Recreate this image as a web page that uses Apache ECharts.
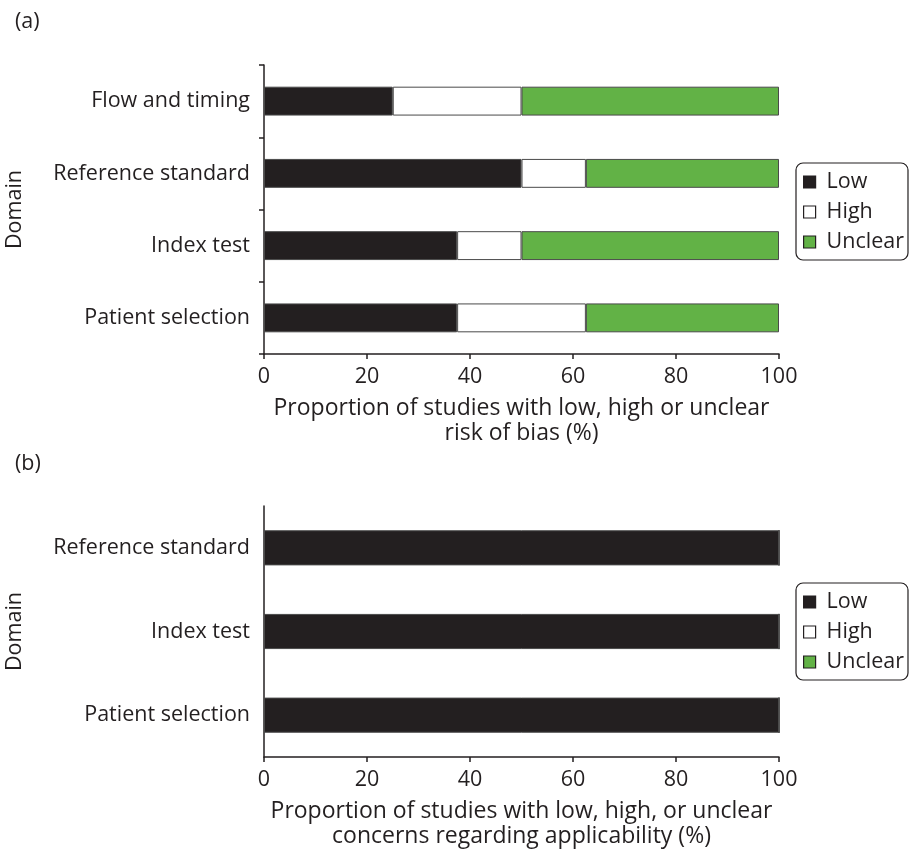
<!DOCTYPE html>
<html>
<head>
<meta charset="utf-8">
<script src="https://cdn.jsdelivr.net/npm/echarts@6/dist/echarts.min.js"></script>
<style>
  html, body { margin: 0; padding: 0; background: #fff; }
  #chart { width: 911px; height: 852px; }
</style>
</head>
<body>
<div id="chart"></div>
<script>
// Panel (a): risk of bias per QUADAS-2 domain (bottom to top)
const biasDomains = ['Patient selection', 'Index test', 'Reference standard', 'Flow and timing'];
const biasLow = [37.5, 37.5, 50, 25];
const biasHigh = [25, 12.5, 12.5, 25];
const biasUnclear = [37.5, 50, 37.5, 50];

// Panel (b): applicability concerns per domain (bottom to top)
const applDomains = ['Patient selection', 'Index test', 'Reference standard'];
const applLow = [100, 100, 100];
const applHigh = [0, 0, 0];
const applUnclear = [0, 0, 0];

const xTicks = [0, 20, 40, 60, 80, 100];
const levelNames = ['Low', 'High', 'Unclear'];

const INK = '#231f20';
const GREEN = '#62b246';
const FONT = '"Open Sans", "Noto Sans", sans-serif';
const fills = { Low: INK, High: '#ffffff', Unclear: GREEN };

const chart = echarts.init(document.getElementById('chart'), null, { renderer: 'canvas' });

function xAxisFor(gridIndex, name) {
  return {
    type: 'value', gridIndex, min: xTicks[0], max: xTicks[xTicks.length - 1], interval: 20,
    name, nameLocation: 'middle', nameGap: 42,
    nameTextStyle: { color: INK, fontSize: 23, fontFamily: FONT, lineHeight: 25, verticalAlign: 'top' },
    axisLine: { show: true, lineStyle: { color: INK, width: 1.5 } },
    axisTick: { show: true, length: 5, inside: false, lineStyle: { color: INK, width: 1.5 } },
    axisLabel: { color: INK, fontSize: 21.5, fontFamily: FONT, margin: 12 },
    splitLine: { show: false }
  };
}

function yAxisFor(gridIndex, cats, ticks) {
  return {
    type: 'category', gridIndex, data: cats,
    name: 'Domain', nameLocation: 'middle', nameGap: 238, nameRotate: 90,
    nameTextStyle: { color: INK, fontSize: 21.5, fontFamily: FONT },
    axisLine: { show: true, lineStyle: { color: INK, width: 1.5 } },
    axisTick: { show: ticks, length: 5, lineStyle: { color: INK, width: 1.5 } },
    axisLabel: { color: INK, fontSize: 21.5, fontFamily: FONT, margin: 14 },
    splitLine: { show: false }
  };
}

function barSeries(name, data, xi, stack, width) {
  return {
    type: 'bar', name, data, xAxisIndex: xi, yAxisIndex: xi, stack,
    barWidth: width,
    itemStyle: { color: fills[name], borderColor: '#4a4a4a', borderWidth: 1 },
    emphasis: { disabled: true },
    animation: false
  };
}

function legendAt(top) {
  return {
    orient: 'vertical', left: 796, top,
    data: levelNames,
    icon: 'rect', itemWidth: 12, itemHeight: 12, itemGap: 8,
    padding: [8, 4, 7, 7],
    borderColor: INK, borderWidth: 1.2, borderRadius: 7,
    itemStyle: { borderColor: INK, borderWidth: 1.2 },
    textStyle: { color: INK, fontSize: 21.5, fontFamily: FONT, padding: [0, 0, 0, 6] },
    selectedMode: false
  };
}

chart.setOption({
  backgroundColor: '#ffffff',
  animation: false,
  title: [
    { text: '(a)', left: 10, top: 6, textStyle: { color: INK, fontSize: 21.5, fontWeight: 'normal', fontFamily: FONT } },
    { text: '(b)', left: 10, top: 448, textStyle: { color: INK, fontSize: 21.5, fontWeight: 'normal', fontFamily: FONT } }
  ],
  legend: [legendAt(163), legendAt(583)],
  grid: [
    { left: 264, top: 65, width: 515, height: 289, outerBoundsMode: 'none' },
    { left: 264, top: 506, width: 515, height: 251, outerBoundsMode: 'none' }
  ],
  xAxis: [
    xAxisFor(0, 'Proportion of studies with low, high or unclear\nrisk of bias (%)'),
    xAxisFor(1, 'Proportion of studies with low, high, or unclear\nconcerns regarding applicability (%)')
  ],
  yAxis: [
    yAxisFor(0, biasDomains, true),
    yAxisFor(1, applDomains, false)
  ],
  series: [
    barSeries('Low', biasLow, 0, 'a', '40%'),
    barSeries('High', biasHigh, 0, 'a', '40%'),
    barSeries('Unclear', biasUnclear, 0, 'a', '40%'),
    barSeries('Low', applLow, 1, 'b', '42%'),
    barSeries('High', applHigh, 1, 'b', '42%'),
    barSeries('Unclear', applUnclear, 1, 'b', '42%')
  ]
});
</script>
</body>
</html>
